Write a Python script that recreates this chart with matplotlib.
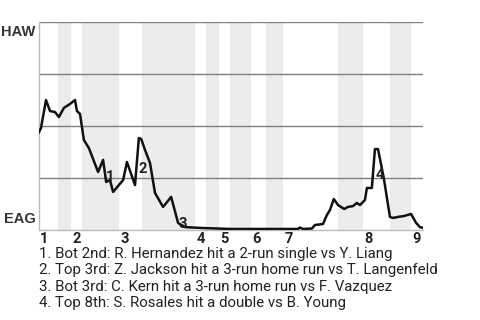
import matplotlib
matplotlib.use("Agg")
import matplotlib.pyplot as plt
import matplotlib.transforms as mtransforms

# game progress (0-100) and HAW win probability
plays = [0, 0.65, 1.95, 3.0, 4.3, 5.3, 6.6, 8.2, 9.5, 10.0, 10.8, 11.8, 13.1, 15.5,
         16.8, 17.6, 18.6, 19.4, 22.0, 23.0, 25.1, 26.1, 26.7, 27.7, 29.0, 30.3,
         32.4, 34.5, 36.3, 38.1, 42.0, 49.8, 67.5, 68.0, 68.8, 71.1, 71.9, 74.0,
         75.0, 75.8, 76.8, 77.9, 79.5, 80.5, 81.8, 82.8, 83.6, 84.9, 85.4, 86.7,
         87.5, 88.3, 89.8, 91.4, 92.2, 93.5, 95.0, 96.9, 98.2, 99.2, 100]
win_prob = [0.466, 0.490, 0.625, 0.572, 0.567, 0.543, 0.587, 0.606, 0.625, 0.572,
            0.558, 0.433, 0.394, 0.279, 0.337, 0.231, 0.240, 0.183, 0.240, 0.327,
            0.216, 0.442, 0.438, 0.385, 0.322, 0.178, 0.111, 0.159, 0.034, 0.014,
            0.010, 0.005, 0.005, 0.012, 0.005, 0.007, 0.024, 0.029, 0.072, 0.096,
            0.149, 0.120, 0.101, 0.111, 0.115, 0.130, 0.120, 0.144, 0.202, 0.202,
            0.389, 0.389, 0.250, 0.063, 0.058, 0.063, 0.067, 0.077, 0.034, 0.014,
            0.010]

# start of each top half and each bottom half
inning_tops = [0, 8.45, 20.94, 40.7, 46.94, 55.27, 63.59, 84.4, 96.88]
inning_bottoms = [5.07, 11.31, 26.92, 43.56, 49.8, 59.17, 77.9, 91.42]
inning_labels = ["1", "2", "3", "4", "5", "6", "7", "8", "9"]
game_end = 100

# key plays
key_x = [18.7, 27.2, 37.6, 88.8]
key_y = [0.255, 0.293, 0.029, 0.264]
key_labels = ["1", "2", "3", "4"]
key_text = [
    "1. Bot 2nd: R. Hernandez hit a 2-run single vs Y. Liang",
    "2. Top 3rd: Z. Jackson hit a 3-run home run vs T. Langenfeld",
    "3. Bot 3rd: C. Kern hit a 3-run home run vs F. Vazquez",
    "4. Top 8th: S. Rosales hit a double vs B. Young",
]

plt.rcParams['font.family'] = ['Roboto', 'DejaVu Sans']

fig = plt.figure(figsize=(4.8, 3.2), dpi=100)
ax = fig.add_axes([38.5 / 480, 1 - 230 / 320, (423 - 38.5) / 480, 208 / 320])

# shade bottom halves
ends = inning_tops[1:] + [game_end]
for b, e in zip(inning_bottoms, ends):
    ax.axvspan(b, e, color="#ececec", lw=0, zorder=0)

for yv in [0.25, 0.5, 0.75, 1.0]:
    ax.axhline(yv, color="#808080", lw=1.0, zorder=1)

ax.plot(plays, win_prob, color="#111111", lw=1.8, zorder=3)

for x, y, s in zip(key_x, key_y, key_labels):
    ax.text(x, y, s, fontsize=10.5, fontweight="bold", color="#222222",
            ha="center", va="center", zorder=4)

ax.set_xlim(0, game_end)
ax.set_ylim(0, 1)
ax.set_xticks([])
ax.set_yticks([])
for side in ["top", "right"]:
    ax.spines[side].set_visible(False)
for side in ["left", "bottom"]:
    ax.spines[side].set_color("#bbbbbb")
    ax.spines[side].set_linewidth(1.0)

# team labels
ax.text(-0.008, 0.985, "HAW", transform=ax.transAxes, ha="right", va="top",
        fontsize=10.5, fontweight="bold", color="#333333", family="Liberation Sans")
ax.text(-0.008, 0.02, "EAG", transform=ax.transAxes, ha="right", va="bottom",
        fontsize=10.5, fontweight="bold", color="#333333", family="Liberation Sans")

# inning numbers
trans = mtransforms.blended_transform_factory(ax.transData, ax.transAxes)
for x, s in zip(inning_tops, inning_labels):
    ax.text(x + 0.4, -0.01, s, transform=trans, ha="left", va="top",
            fontsize=10.5, fontweight="bold", color="#222222")

# key play descriptions
for i, t in enumerate(key_text):
    fig.text(39 / 480, 1 - (254 + i * 16.4) / 320, t, ha="left", va="center",
             fontsize=10.8, color="#222222")

fig.savefig("out.png", dpi=100)
